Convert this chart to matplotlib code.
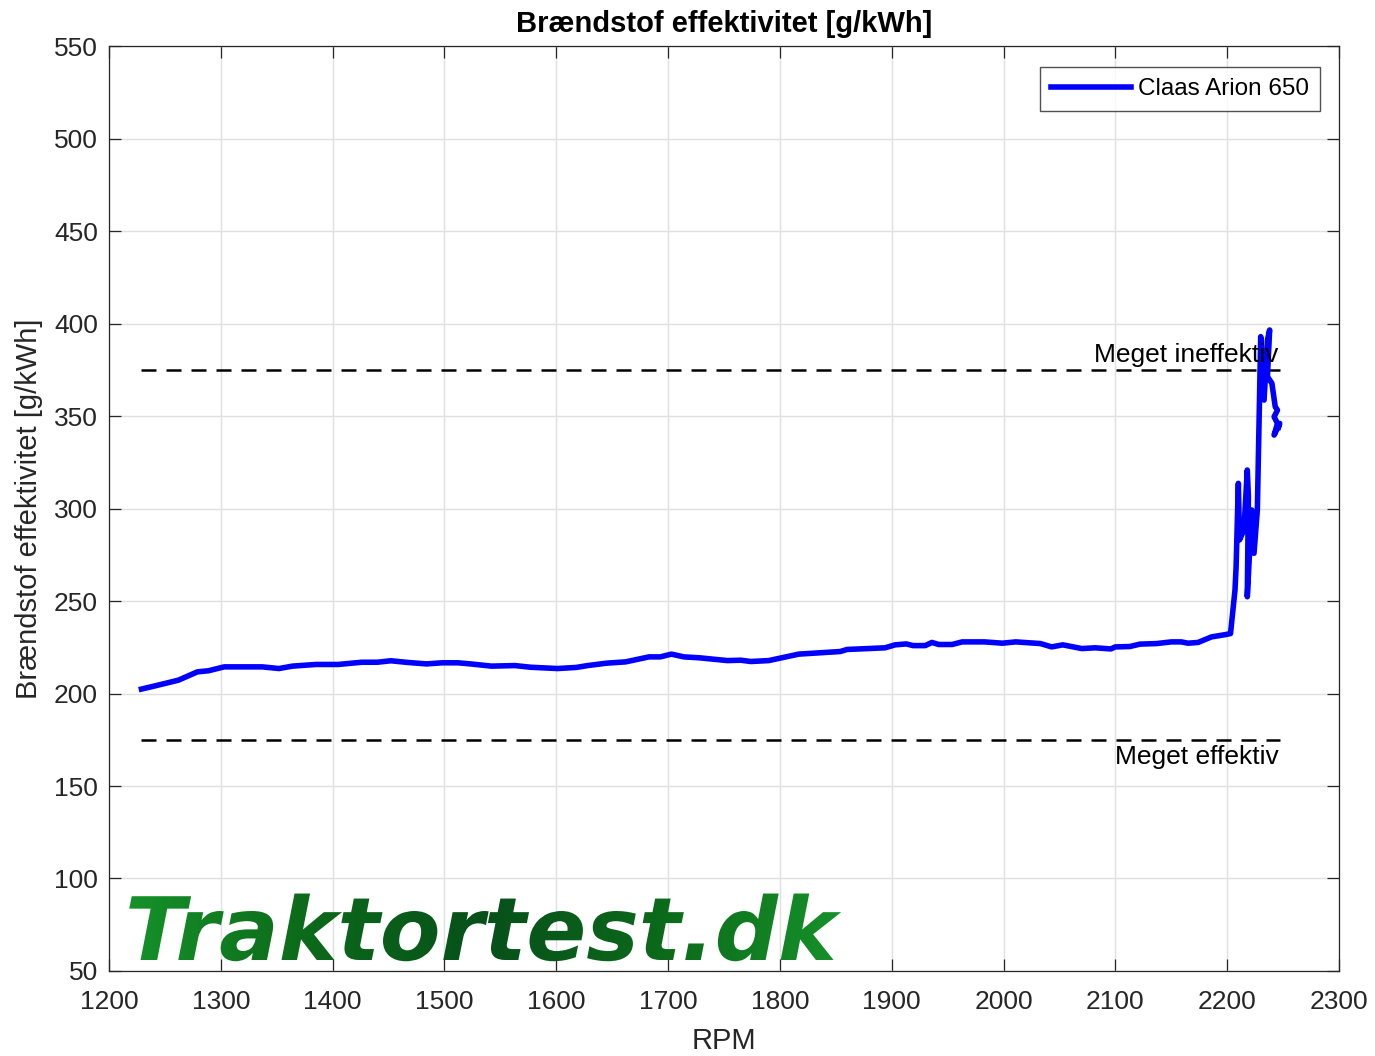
import numpy as np
import matplotlib.pyplot as plt
from matplotlib.textpath import TextPath
from matplotlib.patches import PathPatch
from matplotlib.font_manager import FontProperties
from matplotlib.colors import LinearSegmentedColormap
from matplotlib.transforms import Affine2D

plt.rcParams['font.family'] = ['Liberation Sans', 'DejaVu Sans']

# RPM and fuel efficiency [g/kWh]
rpm = [1229, 1241, 1262, 1279, 1289, 1303, 1337, 1352, 1364, 1385, 1405, 1426,
       1440, 1452, 1467, 1484, 1498, 1512, 1525, 1542, 1563, 1577, 1601, 1618,
       1628, 1645, 1662, 1683, 1693, 1703, 1714, 1728, 1753, 1765, 1774, 1790,
       1817, 1854, 1860, 1894, 1903, 1913, 1919, 1930, 1936, 1942, 1954, 1963,
       1983, 1999, 2011, 2033, 2043, 2053, 2070, 2082, 2096, 2100, 2113, 2122,
       2137, 2150, 2159, 2165, 2174, 2186, 2199, 2203,
       2207, 2208, 2210, 2211, 2215, 2218, 2219, 2218, 2222, 2224, 2227, 2230,
       2233, 2236, 2238, 2236, 2240, 2243, 2245, 2242, 2245, 2242, 2247, 2246]
eff = [202.4, 204.1, 207.2, 211.7, 212.3, 214.4, 214.4, 213.5, 214.8, 215.7, 215.7, 216.9,
       216.9, 217.7, 216.8, 216.0, 216.6, 216.6, 215.9, 214.8, 215.1, 214.2, 213.5, 214.1,
       215.1, 216.4, 217.1, 219.8, 219.8, 221.3, 219.8, 219.3, 217.8, 218.0, 217.3, 217.8,
       221.3, 222.7, 223.8, 224.7, 226.3, 226.8, 225.9, 225.9, 227.6, 226.5, 226.5, 227.9,
       227.9, 227.2, 227.9, 227.0, 225.2, 226.3, 224.3, 224.7, 224.1, 225.2, 225.4, 226.7,
       227.0, 227.9, 227.9, 227.2, 227.6, 230.6, 231.9, 232.4,
       255.9, 268.5, 313.6, 283.0, 288.4, 320.8, 306.4, 252.3, 299.2, 275.8, 299.2, 392.9,
       358.6, 391.0, 396.5, 371.3, 367.7, 355.0, 353.2, 349.6, 346.0, 339.7, 346.0, 344.0]

limit_high = 375
limit_low = 175
limit_rpm = [1229, 2247]

dark = '#262626'

fig = plt.figure(figsize=(13.75, 10.56), dpi=100)
ax = fig.add_axes([0.0793, 0.0805, 0.8945, 0.8759])

ax.plot(rpm, eff, color='#0000ff', lw=4.0, label='Claas Arion 650', zorder=3,
        solid_joinstyle='round')
ax.plot(limit_rpm, [limit_high, limit_high], color='black', ls='--', lw=1.8, dashes=(6, 4))
ax.plot(limit_rpm, [limit_low, limit_low], color='black', ls='--', lw=1.8, dashes=(6, 4))
ax.text(2246, limit_high + 1.5, 'Meget ineffektiv', ha='right', va='bottom', fontsize=19)
ax.text(2246, limit_low - 3, 'Meget effektiv', ha='right', va='top', fontsize=19)

ax.set_xlim(1200, 2300)
ax.set_ylim(50, 550)
ax.set_xticks(np.arange(1200, 2301, 100))
ax.set_yticks(np.arange(50, 551, 50))
ax.grid(True, color='#e0e0e0', lw=1.0)
ax.set_axisbelow(True)
ax.tick_params(direction='in', top=True, right=True, labelsize=19, length=8.6,
               width=0.9, color=dark, labelcolor=dark)
ax.tick_params(axis='y', pad=8)
ax.tick_params(axis='x', pad=14)
for s in ax.spines.values():
    s.set_linewidth(0.9)
    s.set_color(dark)

ax.set_title('Brændstof effektivitet [g/kWh]', fontsize=21, fontweight='bold', pad=10)
ax.set_xlabel('RPM', fontsize=21, labelpad=9, color=dark)
ax.set_ylabel('Brændstof effektivitet [g/kWh]', fontsize=21, labelpad=8, color=dark)

leg = ax.legend(loc='upper right', fontsize=17.5, frameon=True, fancybox=False,
                edgecolor=dark, handlelength=3.3, handletextpad=0.3, borderpad=0.45,
                borderaxespad=0, bbox_to_anchor=(0.9846, 0.977))
leg.get_frame().set_linewidth(1.0)

# watermark with a green gradient, clipped to the text outline
fp = FontProperties(family='DejaVu Sans', weight='bold', style='oblique', size=63)
tp = TextPath((0, 0), 'Traktortest.dk', prop=fp)
px = fig.dpi / 72.0
x0 = 125
y0 = 1056 - 960
tr = Affine2D().scale(px * 1.01, px).translate(x0, y0)
clip = PathPatch(tp, transform=tr, facecolor='none', edgecolor='none')
fig.add_artist(clip)
cmap = LinearSegmentedColormap.from_list('wm', ['#16922a', '#0c6a1a', '#07501a',
                                                '#0c6a1a', '#16922a'])
grad = np.linspace(0, 1, 256).reshape(1, -1)
wm = ax.imshow(grad, cmap=cmap, aspect='auto', zorder=5,
               extent=[(x0 - 109) / 1230, (x0 + 720 - 109) / 1230, 0.0, 0.12],
               transform=ax.transAxes)
wm.set_clip_path(clip)
ax.set_xlim(1200, 2300)
ax.set_ylim(50, 550)

fig.savefig('out.png', dpi=100)
